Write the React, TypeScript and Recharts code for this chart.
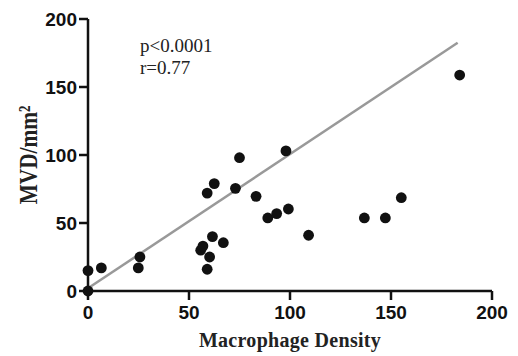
import { ScatterChart, Scatter, XAxis, YAxis, ReferenceLine, Label } from 'recharts';

// macrophage density vs MVD/mm²
const density = [0, 0, 6.6, 24.9, 25.7, 55.8, 56.9, 60.2, 59, 61.6, 67, 59, 62.5, 73, 75, 83.2, 89, 93.4, 99.2, 98, 109.2, 136.8, 147.2, 155.1, 184];
const mvd = [0, 15, 17, 17, 25, 30, 33, 25, 16, 40, 35.5, 72, 79, 75.5, 98, 69.6, 53.7, 56.9, 60.3, 103, 41, 53.7, 53.7, 68.6, 158.8];

// regression line endpoints
const fitX = [0, 183];
const fitY = [2, 182.5];

const ticks = [0, 50, 100, 150, 200];

const points = density.map((x, i) => ({ x, y: mvd[i] }));

const tickStyle = {
  fill: '#111',
  fontSize: 19,
  fontWeight: 700,
  fontFamily: '"Liberation Sans", Arial, sans-serif',
};

const Dot = (p: any) => <circle cx={p.cx} cy={p.cy} r={5.4} fill="#111" />;

export default function App() {
  return (
    <div style={{ position: 'absolute', left: 0, top: 0, width: 518, height: 356, background: '#fff' }}>
      <ScatterChart width={518} height={356} margin={{ top: 19, right: 26, bottom: 8, left: 0 }}>
        <XAxis
          type="number"
          dataKey="x"
          domain={[0, 200]}
          ticks={ticks}
          height={57}
          tick={tickStyle}
          tickSize={9}
          tickMargin={6}
          axisLine={{ stroke: '#111', strokeWidth: 2.5 }}
          tickLine={{ stroke: '#111', strokeWidth: 2.5 }}
        >
          <Label
            content={({ viewBox }: any) => (
              <text
                x={viewBox.x + viewBox.width / 2}
                y={347}
                textAnchor="middle"
                fill="#222"
                fontSize={20}
                fontWeight={700}
                fontFamily='"Liberation Serif", "Times New Roman", serif'
                letterSpacing={0.3}
              >
                Macrophage Density
              </text>
            )}
          />
        </XAxis>
        <YAxis
          type="number"
          dataKey="y"
          domain={[0, 200]}
          ticks={ticks}
          width={88}
          tick={tickStyle}
          tickSize={9}
          tickMargin={2}
          axisLine={{ stroke: '#111', strokeWidth: 2.5 }}
          tickLine={{ stroke: '#111', strokeWidth: 2.5 }}
        >
          <Label
            content={({ viewBox }: any) => (
              <text
                transform={`translate(37, ${viewBox.y + viewBox.height / 2}) rotate(-90) scale(0.82, 1)`}
                textAnchor="middle"
                fill="#222"
                fontSize={26}
                fontWeight={700}
                fontFamily='"Liberation Serif", "Times New Roman", serif'
              >
                MVD/mm²
              </text>
            )}
          />
        </YAxis>
        <ReferenceLine
          segment={[
            { x: fitX[0], y: fitY[0] },
            { x: fitX[1], y: fitY[1] },
          ]}
          stroke="#999"
          strokeWidth={2.5}
        />
        <Scatter data={points} shape={Dot} isAnimationActive={false} />
      </ScatterChart>
      <div
        style={{
          position: 'absolute',
          left: 140,
          top: 34.6,
          fontFamily: '"Liberation Serif", "Times New Roman", serif',
          fontSize: 19,
          lineHeight: '22px',
          color: '#222',
        }}
      >
        <div>p&lt;0.0001</div>
        <div>r=0.77</div>
      </div>
    </div>
  );
}
